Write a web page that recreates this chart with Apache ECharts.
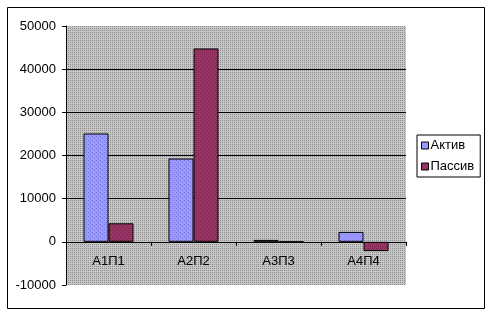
<!DOCTYPE html>
<html>
<head>
<meta charset="utf-8">
<script src="https://cdn.jsdelivr.net/npm/echarts@6/dist/echarts.min.js"></script>
<style>
html,body{margin:0;padding:0;background:#fff;}
#c{width:491px;height:312px;}
</style>
</head>
<body>
<div id="c"></div>
<script>
const categories = ['А1П1', 'А2П2', 'А3П3', 'А4П4'];
const seriesNames = ['Актив', 'Пассив'];
const aktiv = [25100, 19300, 450, 2300];
const passiv = [4300, 44800, 0, -2150];
const yTicks = { min: -10000, max: 50000, step: 10000 };

function makePattern(base, dot, size, dots) {
  const cv = document.createElement('canvas');
  cv.width = size; cv.height = size;
  const ctx = cv.getContext('2d');
  ctx.fillStyle = base; ctx.fillRect(0, 0, size, size);
  ctx.fillStyle = dot;
  dots.forEach(function (d) { ctx.fillRect(d[0], d[1], 1, 1); });
  return { image: cv, repeat: 'repeat' };
}
const plotBg = makePattern('#c6c6c6', '#8e8e8e', 2, [[0, 0]]);
const blueFill = makePattern('#9999ff', '#7777dd', 4, [[0, 0], [2, 2]]);
const redFill = makePattern('#993366', '#6e2046', 4, [[0, 0], [2, 2]]);

const font = 'Liberation Sans, Arial, sans-serif';
const gridTop = 26, gridBottom = 27, chartH = 312;
const gridH = chartH - gridTop - gridBottom;
// shift the category axis from the grid bottom up to the value 0
const zeroOffset = -gridH * (0 - yTicks.min) / (yTicks.max - yTicks.min);

const chart = echarts.init(document.getElementById('c'), null, { renderer: 'canvas' });
chart.setOption({
  animation: false,
  backgroundColor: '#fff',
  textStyle: { fontFamily: font },
  graphic: [{
    type: 'rect', left: 5, top: 5, silent: true, z: -10,
    shape: { width: 477, height: 301 },
    style: { fill: 'none', stroke: '#000', lineWidth: 1 }
  }],
  grid: {
    left: 66, right: 85, top: gridTop, bottom: gridBottom,
    show: true, backgroundColor: plotBg, borderWidth: 0
  },
  legend: {
    orient: 'vertical', left: 417, top: 135,
    width: 64,
    padding: [4, 6, 4, 4],
    backgroundColor: '#fff', borderColor: '#000', borderWidth: 1, borderRadius: 0,
    itemWidth: 7, itemHeight: 7, itemGap: 8,
    icon: 'rect',
    textStyle: { fontFamily: font, fontSize: 13, color: '#000', padding: [0, 0, 0, -3] },
    data: [
      { name: seriesNames[0], itemStyle: { color: '#9999ff', borderColor: '#000', borderWidth: 1 } },
      { name: seriesNames[1], itemStyle: { color: '#993366', borderColor: '#000', borderWidth: 1 } }
    ]
  },
  xAxis: {
    type: 'category', data: categories,
    boundaryGap: true,
    offset: zeroOffset,
    axisLine: { show: true, onZero: false, lineStyle: { color: '#000', width: 1 } },
    axisTick: { show: true, length: 4, inside: false, alignWithLabel: false, lineStyle: { color: '#000' } },
    axisLabel: { fontFamily: font, fontSize: 13, color: '#000', margin: 13 },
    splitLine: { show: false }
  },
  yAxis: {
    type: 'value', min: yTicks.min, max: yTicks.max, interval: yTicks.step,
    axisLine: { show: true, lineStyle: { color: '#000', width: 1 } },
    axisTick: { show: true, length: 4, inside: false, lineStyle: { color: '#000' } },
    axisLabel: { fontFamily: font, fontSize: 13, color: '#000', margin: 10, formatter: function (v) { return String(v); } },
    splitLine: { show: true, showMinLine: false, showMaxLine: false, lineStyle: { color: '#000', width: 1 } }
  },
  series: [
    {
      name: seriesNames[0], type: 'bar', data: aktiv, barWidth: 25, barGap: '0%',
      itemStyle: { color: blueFill, borderColor: '#000', borderWidth: 1 }
    },
    {
      name: seriesNames[1], type: 'bar', data: passiv, barWidth: 25, barGap: '0%',
      itemStyle: { color: redFill, borderColor: '#000', borderWidth: 1 }
    }
  ]
});
</script>
</body>
</html>
